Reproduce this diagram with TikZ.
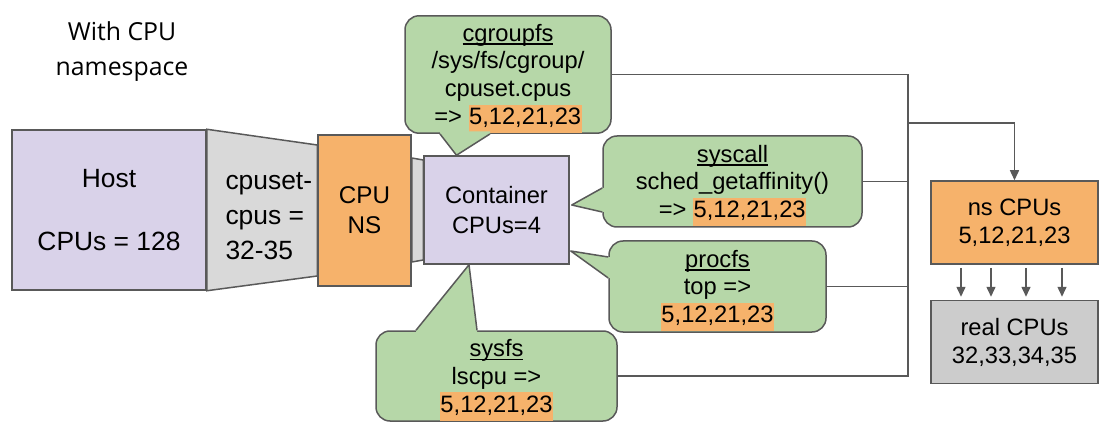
\documentclass[tikz,border=0pt]{standalone}
\usepackage{fontspec}
\setmainfont{Liberation Sans}
\newfontfamily\titlefont{Open Sans}
\usetikzlibrary{arrows.meta,calc,positioning,backgrounds}
\definecolor{hostlav}{HTML}{D9D2E9}
\definecolor{pipegray}{HTML}{D9D9D9}
\definecolor{nsorange}{HTML}{F6B26B}
\definecolor{bubblegreen}{HTML}{B6D7A8}
\definecolor{realgray}{HTML}{CCCCCC}
\definecolor{edgegray}{HTML}{595959}
\tikzstyle{box} = [draw=edgegray, line width=1.5pt, inner sep=0pt, align=center, text=black]
\tikzstyle{bubble} = [box, rounded corners=14pt, fill=bubblegreen, font=\fontsize{23.7}{27.7}\selectfont]
\tikzstyle{wire} = [draw=edgegray, line width=1.5pt]
\tikzstyle{tip} = [-{Triangle[length=10pt,width=9pt]}]
\newcommand{\cpulist}[1]{{\setlength{\fboxsep}{0.5pt}\colorbox{nsorange}{\strut #1}}}
\newcommand{\titleline}[1]{{\rule{0pt}{25.5pt}\setbox0\hbox{#1}\rlap{\vrule width\wd0 height -2.2pt depth 3.6pt}\box0}}
\newcommand{\bubbletail}[4]{%
  \fill[bubblegreen] ($#1+#4$) -- #1 -- #2 -- #3 -- ($#3+#4$) -- cycle;
  \path[wire, line join=round] #1 -- #2 -- #3;}

\begin{document}
\begin{tikzpicture}[x=1pt, y=-1pt]
    \useasboundingbox (0,0) rectangle (1103,422);

    \node[font=\titlefont\fontsize{24.8}{35}\selectfont, align=center] at (122,51.5) (title) {With CPU\\namespace};

    % host -> cpu ns -> container
    \node[box, fill=hostlav, minimum width=194pt, minimum height=160pt, font=\fontsize{26.4}{31.5}\selectfont] at (109,210) (host) {Host\\[31.5pt]CPUs = 128};
    \node[box, fill=nsorange, minimum width=93pt, minimum height=151pt, font=\fontsize{24.2}{30}\selectfont] at (364.5,210.5) (cpuns) {CPU\\NS};
    \node[box, fill=hostlav, minimum width=145pt, minimum height=108pt, font=\fontsize{23.7}{30}\selectfont] at (496.5,210) (cont) {Container\\CPUs=4};
    \node[anchor=west, align=left, font=\fontsize{26.4}{35}\selectfont] at (222,216) (cpuset) {cpuset-\\cpus =\\32-35};

    \begin{scope}[on background layer]
        \path[wire, fill=pipegray]
            (host.north east) -- ($(cpuns.west)+(0,-65.5)$) -- ($(cpuns.west)+(0,65.5)$) -- (host.south east) -- cycle;
        \path[wire, fill=pipegray]
            ($(cpuns.east)+(0,-52.5)$) -- ($(cont.west)+(0,-50)$) -- ($(cont.west)+(0,50)$) -- ($(cpuns.east)+(0,51.5)$) -- cycle;
    \end{scope}

    % callouts
    \node[bubble, minimum width=206pt, minimum height=117pt] at (508,74.5) (cgroup) {\titleline{cgroupfs}\\/sys/fs/cgroup/\\cpuset.cpus\\=> \cpulist{5,12,21,23}};
    \node[bubble, minimum width=259pt, minimum height=91pt] at (732.5,181.5) (syscall) {\titleline{syscall}\\sched\_getaffinity()\\=> \cpulist{5,12,21,23}};
    \node[bubble, minimum width=217pt, minimum height=91pt] at (717.5,286.5) (procfs) {\titleline{procfs}\\top =>\\\cpulist{5,12,21,23}};
    \node[bubble, minimum width=241pt, minimum height=90pt] at (496.5,376) (sysfs) {\titleline{sysfs}\\lscpu =>\\\cpulist{5,12,21,23}};

    \coordinate (cgA) at ($(cgroup.south)+(-68,0)$);
    \coordinate (cgB) at ($(cgroup.south)+(-18,0)$);
    \coordinate (cgTip) at ($(cont.north)+(-40,0)$);
    \coordinate (scA) at ($(syscall.west)+(0,6.5)$);
    \coordinate (scB) at ($(syscall.west)+(0,30.5)$);
    \coordinate (scTip) at ($(cont.east)+(2,-5)$);
    \coordinate (pfA) at ($(procfs.west)+(0,-29.5)$);
    \coordinate (pfB) at ($(procfs.west)+(0,-8.5)$);
    \coordinate (pfTip) at ($(cont.east)+(1,41)$);
    \coordinate (sfA) at ($(sysfs.north)+(-80.5,0)$);
    \coordinate (sfB) at ($(sysfs.north)+(-19.5,0)$);
    \coordinate (sfTip) at ($(cont.south)+(-27.5,0)$);
    \bubbletail{(cgA)}{(cgTip)}{(cgB)}{(0,-2.5)}
    \bubbletail{(scA)}{(scTip)}{(scB)}{(2.5,0)}
    \bubbletail{(pfA)}{(pfTip)}{(pfB)}{(2.5,0)}
    \bubbletail{(sfA)}{(sfTip)}{(sfB)}{(0,2.5)}

    % cpu mapping
    \node[box, fill=nsorange, minimum width=167pt, minimum height=83pt, font=\fontsize{23.7}{28}\selectfont] at (1014.5,222.5) (nscpu) {ns CPUs\\5,12,21,23};
    \node[box, fill=realgray, minimum width=167pt, minimum height=83pt, font=\fontsize{23.7}{28}\selectfont, below=35pt of nscpu] (realcpu) {real CPUs\\32,33,34,35};

    \coordinate (bus) at (908,123);
    \path[wire]
        (cgroup.east) -| (bus) |- (sysfs.east)
        (syscall.east) -- (syscall.east -| bus)
        (procfs.east) -- (procfs.east -| bus);
    \path[wire, tip] (bus) -| (nscpu.north);
    \foreach \dx in {-53.5,-23.5,11.5,47.5}
        \path[wire, tip] ($(nscpu.south)+(\dx,3)$) -- ($(realcpu.north)+(\dx,-3)$);
\end{tikzpicture}
\end{document}
